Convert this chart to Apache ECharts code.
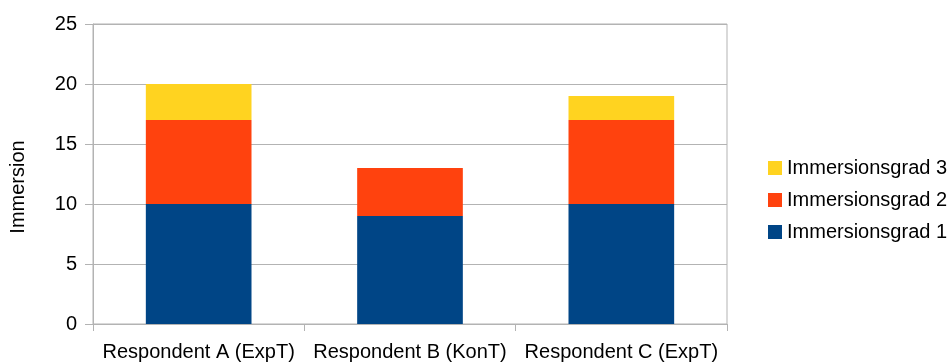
<!DOCTYPE html>
<html>
<head>
<meta charset="utf-8">
<script src="https://cdn.jsdelivr.net/npm/echarts@6/dist/echarts.min.js"></script>
<style>
  html, body { margin: 0; padding: 0; background: #fff; }
  #chart { width: 950px; height: 363px; }
</style>
</head>
<body>
<div id="chart"></div>
<script>
// Stacked immersion scores per respondent
const categories = ['Respondent A (ExpT)', 'Respondent B (KonT)', 'Respondent C (ExpT)'];
const grad1 = [10, 9, 10];
const grad2 = [7, 4, 7];
const grad3 = [3, 0, 2];
const yTicks = { min: 0, max: 25, interval: 5 };

const font = '"Liberation Sans", Arial, sans-serif';
const gridColor = '#b3b3b3';

const chart = echarts.init(document.getElementById('chart'));

function bar(name, data, color) {
  return {
    name: name,
    type: 'bar',
    stack: 'total',
    data: data,
    barWidth: '50%',
    itemStyle: { color: color },
    emphasis: { disabled: true }
  };
}

chart.setOption({
  animation: false,
  textStyle: { fontFamily: font, color: '#000' },
  grid: {
    left: 93, right: 223, top: 24, bottom: 39,
    containLabel: false,
    outerBoundsMode: 'none',
    show: true, borderColor: gridColor, borderWidth: 1
  },
  legend: {
    orient: 'vertical',
    left: 763,
    top: 153,
    itemWidth: 14,
    itemHeight: 14,
    itemGap: 12,
    itemTextGap: 6,
    icon: 'rect',
    data: ['Immersionsgrad 3', 'Immersionsgrad 2', 'Immersionsgrad 1'],
    textStyle: { fontSize: 20, color: '#000', fontFamily: font, lineHeight: 20 },
    selectedMode: false
  },
  xAxis: {
    type: 'category',
    data: categories,
    axisLine: { lineStyle: { color: gridColor } },
    axisTick: { show: true, length: 7, lineStyle: { color: gridColor } },
    axisLabel: { fontSize: 20, color: '#000', margin: 18, interval: 0 },
    splitLine: { show: false }
  },
  yAxis: {
    type: 'value',
    min: yTicks.min,
    max: yTicks.max,
    interval: yTicks.interval,
    name: 'Immersion',
    nameLocation: 'middle',
    nameGap: 65,
    nameTextStyle: { fontSize: 20, color: '#000', padding: [0, 26, 0, 0] },
    axisLine: { show: true, lineStyle: { color: gridColor } },
    axisTick: { show: true, length: 8, lineStyle: { color: gridColor } },
    axisLabel: { fontSize: 20, color: '#000', margin: 16 },
    splitLine: { lineStyle: { color: gridColor } }
  },
  series: [
    bar('Immersionsgrad 1', grad1, '#004586'),
    bar('Immersionsgrad 2', grad2, '#ff420e'),
    bar('Immersionsgrad 3', grad3, '#ffd320')
  ]
});
</script>
</body>
</html>
